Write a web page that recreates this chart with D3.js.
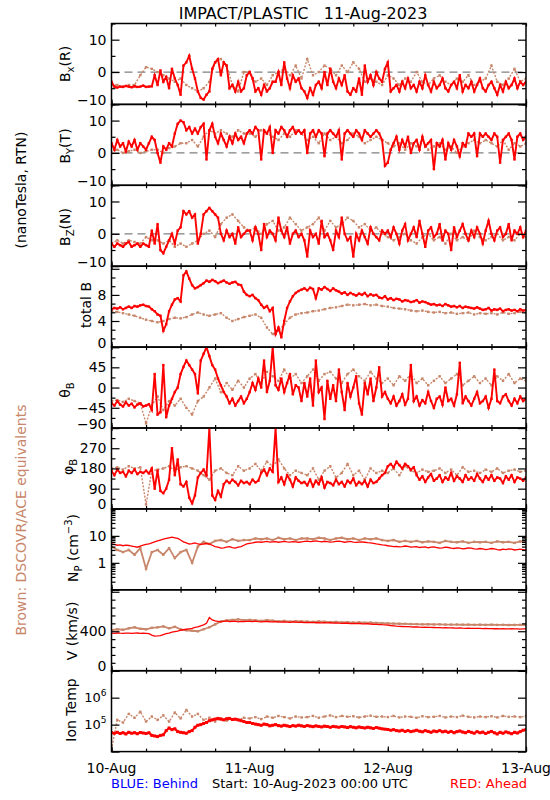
<!DOCTYPE html>
<html><head><meta charset="utf-8">
<script src="https://cdn.jsdelivr.net/npm/d3@7"></script>
<style>
body{margin:0;background:#fff}
svg{display:block}
text{font-family:"DejaVu Sans","Liberation Sans",sans-serif;white-space:pre}
</style>
</head><body>
<svg id="c" width="550" height="800"></svg>
<script>
// ---------------- DATA ----------------
// time axis: 10-Aug-2023 00:00 UTC to 13-Aug-2023 00:00 UTC
const dayLabels = ["10-Aug","11-Aug","12-Aug","13-Aug"];
// red (STEREO Ahead) series: 145 samples, every 30 min; brown (DSCOVR/ACE): 73 samples, hourly

const bxRed = [-3,-4.5,-4.8,-4.5,-4.6,-4.3,-4.5,-4.7,-4.4,-4.6,-4.5,-4.2,-4.6,-4.5,-4.4,
 -1,-4,0.5,-3,-1.5,-5,1,-2,-4, -7,2,3,5,1, -2,-6,-8,-8.5,-7,-6, 1,3,4,-1,3,2, -5,-4,-6,-3,-6,-5,
 -1,0,-2, -6,-5,-7,-4,-6,-5,-3, -3,0,-4,3,-2,-5,-1,-3,-2,-5, -6,-8,-5,-7,-4,
 -3,-5,0,-4,1,-3,-5,-2,-4,-1, -6,-7,-5,-6,-2,-7,2, -3,-1,-4,0,-2,-3,1, 3,
 -6,-5,-4,-6,-3,-5,-2,-5,-4,-6,-3,-5,-1,-4,-6,-3,-5,-4,-2,-5,-6,-4,-3,-5,-1,-6,-4,-5,-3,-6,
 -4,-2,-5,-6,-4,-3,-5,-7,-4,-6,-3,-5,-4,-2,-5,-3,-4,-3];
const bxBrown = [-4,-4,-4.5,-4,-4, -1,1.5,1, 0,-1,-2,-3,-2, -4,-5,-6,-5,-3, 3,4,2,-4,-6, 0,0,
 -3,-2,-4,-1, 0,1,-1,2,-2, 4,-1,0, 2,1,-1,2,0, 3,1,-3,-2, -3,-4,-1,-2,-4,
 -2,-3,0,-3,-4,-2,-1,-3,-4,-2,-3,-1,-4,-3,-2,2,-3,-4,-2,1,-3,-2];

const byRed = [3,1,4,2,3,0.5,3.5,2,4,1,3,2,1,3, 5,4,0,-3,2,1, 3,2, 6,9,10,9.5, 7,8,6,7.5,6,
 8,9,-2,7,9, 5,3,6,4,2,5,3,6,4,5,3,6,
 7,6,8,7,-2,7,6,8,0,7,6,8,7,5,7,8,6,7,
 6,7,0,6,7,5,7,6,-1,6,7,6,5,7,-2,6,7,6,5,7,6,4,7,6,5,6,7,
 6,4,-4,-3,1, 3,5,1,4,2,5,0,3,4,1,5,2,3,4, -5, 3,2,4,-2,3,1,4,2,-1,3,2,
 6,5,6,-1,6,5,6, 5,4,6,5,-3,4,5,6,4,-2,5,6,4,5];
const byBrown = [0,1,0,0.5,1,0,0.5,1, 1,0,1.5,2,3, 3,4,2, 5,7,6,7,6,5,7,6,
 6,5,7,6,5,4,6,5,7,6, 4,5,3,6,4,5,3,4,6,5,3,4,5, 4,3,2,3,1,3,2,4,1,
 2,3,1,2,0,2,3,4,3, 4,3,2,4,1,3,2,3];

const bzRed = [-3,-4,-3,-3.5,-4,-3,-2.5,-4,-3.5,-3,-4,-3,-3.5,-4, 1,-3,3, -5,-6,-4, -2,0,-3,1,2,
 7,6,7,5,6, -3,0, 6,7,8,7,6,5, 0,-2,1,-1,0,-3,2,-1,0,1,
 1,-2,2,0,-5,3,-1,1,0,-2,5,1,-1,2,-3,0,1,-1,
 0,-2,-7,1,-1,0,-3,4,-1,0,-2,-5,1,-1,5,0,-2,-1,-7,0,-2,1,-1,-3,2,0,-1,-2,1,0,
 1,-1,2,0,-3,1,3,-2,0,2,-1,4,0,-4,1,2,-1,0,3,-2,1,0,-5,2,-1,1,3,0,-2,1,
 -1,2,0,-3,1,4,0,-2,1,2,-1,0,3,-2,1,0,2,-1,1];
const bzBrown = [-3,-2,-3,-2,-2.5,-3,-1,-2, -2,-3,-2,-4,-3, -4,-3,-2, 0,1,-1,3,5,6,4,2,
 1,2,0,3,4,1,2,5,3,1, 2,3,5,1,4,2,3,5,4,2,3,1,2, 0,-1,-2,-1,0,-2,-3,-1,0,
 -2,-1,-3,0,-2,-1,-2,1,-1, -2,-1,0,-2,-1,-2,0,-1];

const btRed = [5.8,6,5.9,6.1,5.8,6,6.2,6,6.3,6.2,6.4,6.5,6.3,6.2, 5.8,5.5,5,4.8, 2.5,3.5,
 5.5,6.5,7.3,7.5, 7, 11,11.6,10.5,9.5, 9,9.2,
 9.5,9.8,10.2,10,10.3,10.1,9.8,10,10.2,9.9,9.7,9.9,10,9.6,9.5,
 8.5,8,7.8,8,7.5,7.2, 6.5,6,6.3,5.5,6, 2,3,1.5,4, 6,7,7.8,8.3,8.6,
 8.8,9,8.7,9.1,8.9,7.5,9,8.8,9.2,8.9,8.6,9,8.7,8.5,
 8.2,8.4,8,8.3,8.1,7.9,8.2,8,8.3,7.8,8.1,7.9,8,
 7.6,7.5,7.8,7.3,7.5,7.2,7.4,7.3,7,7.2,7.1,6.9,7,7.2,6.8,7,6.9,
 6.7,6.5,6.6,6.4,6.5,6.3,6.6,6.4,6.2,6.3,6.1,6.3,6,6.2,6.1,6,5.9,6.1,
 5.9,5.7,5.8,6,5.6,5.8,5.7,5.9,5.5,5.7,5.8,5.6,5.7,5.5,5.8,5.6,5.7];
const btBrown = [5.5,5.4,5.2,5,4.8,4.5,4.2,4, 3.8,4,4.3,4.5,4.4, 4.6,5,5.3, 5,4.8,5,5.2,4.5,4,4.3,4.6,
 4.8,5,4.5,3,2,2.5,3.5,4.5,5,5.2, 5.3,5.5,5.6,5.8,6,6.1,6.3,6.5,6.4,6.5,6.6,6.4,6.5,
 6.3,6.2,6,5.9,5.8,5.6,5.5,5.6,5.4, 5.3,5.4,5.2,5.3,5.1,5.2,5.3,5,5.2, 5.1,5.2,5,5.3,5.1,5.2,5.4,5.3];

const thRed = [-35,-40,-30,-38,-42,-33,-40,-36,-44,-38,-35,-42,-40,-37, -50,30,-60,-55,50,-66,
 -40,-25,-10,0, 30,46,60,50, 40,30,-13, 60,75,90,70,50, 40,20,5,-10, -20,-35,-25,-40,-30,-20,-35,-25,
 -10,10,-5,20,0,60,-10,15,90,5,-5,20,-10,10,30,-15,5,0,
 -30,10,-20,20,-40,60,-10,0,-70,15,-25,5,-30,40,-10,-50,10,-20,0,25,-35,-60,10,-15,20,-30,0,45,-20,-10,
 -25,-35,-20,-40,-30,-15,-38,-25,50,-30,-20,-40,-28,-35,-10,-30,-45,-25,-20,-38,
 0,-30,-25,-40,-15,55,-35,-20,-30,-40,-25,-10,-35,-30,-20,-45,-25,40,-30,-35,-20,-15,-30,-40,-25,-35,-20,-30,-25];
const thBrown = [-30,-28,-32,-25,-30,-35,-80,-40, -20,-50,-30,-40,-25, -45,-60,-30, -20,0,20,-10,10,-5,15,0,
 20,30,10,35,25,15,40,20,30,10, 25,40,15,30,35,20,10,30,40,25,15,35,20,
 10,20,5,25,15,30,10,20,5, 15,25,10,20,30,5,15,25,10, 20,5,25,15,30,10,20,15];

const phRed = [170,150,175,160,165,145,170,160,175,155,165,160,170,158, 180,90,170, 80,70,90,
 130,270,150,220, 110,100,120, 50,25,60, 140,160,175,150, 360, 60,40,80,55,
 110,125,115,130,120,105,125,115,120,110,130,118,125, 160,175,150,180,165, 360,
 120,140,110,150,130,100,140,125,
 115,120,105,130,100,125,110,140,95,120,115,105,130,110,120,100,125,115,135,105,120,110,125,100,130,115,120,135,150,160,
 190,200,185,210,195,180,200,190,175,185,
 150,130,145,120,140,155,125,135,150,120,140,130,160,125,145,135,120,150,130,140,
 125,155,135,120,145,130,150,125,140,135,115,145,130,150,120,140,135,125,140];
const phBrown = [180,185,175,190,180,185,20,170, 175,180,190,170,185, 190,180,170, 150,130,170,180,160,150,190,170,
 180,200,170,210,190,220,180,150,170,160, 150,180,130,170,190,140,160,200,150,170,130,180,160,
 170,160,180,150,190,170,160,175,165, 170,180,160,175,150,185,165,170,160, 175,165,180,160,170,175,165,170];

const npRed = [5,4.8,4.5,4.6,4.3,4.5,4.4,4.2,4,3.8,4.2,4.5,4.8,5, 5.5,6,6.5,7,7.5,8,8.5,9,8.5,8,
 7,6,5.5,5,5.2,5.5,5,4.8,5,5.2, 5,4.5,4,3.8,3.5,3.6,3.8,4,3.7,3.5,3.8,4,
 4.5,5,5.3,5.5,5.8,6,5.8,6,6.2,5.9,6,6.1,5.8,6,6.2,6,5.9,6.1,6,5.8,
 6,6.2,6.4,6.1,6.3,6.5,6.2,6,6.3,6.1,5.9,6,6.2,6.4,6.1,5.8,6,6.2,5.9,5.7,5.9,6,5.8,5.6,5.5,5.3,5,4.8,4.6,4.5,
 4.3,4.2,4,4.1,3.9,4,4.2,4.1,3.8,3.9,4,3.7,3.8,3.9,3.6,3.8,3.9,3.7,3.5,3.6,
 3.8,3.7,3.5,3.4,3.6,3.5,3.3,3.4,3.6,3.5,3.3,3.2,3.4,3.3,3.1,3.2,3.4,3.3,3.1,3,3.2,3.1,3.3,3.2,3,3.1,3.2,3.1,3];
const npBrown = [4,3,2.5,3,2,3.5,0.6,2.5, 3,2,3.5,1.5,2.5, 3,1,4, 6,5,6.5,7,6,7.5,6.5,7,
 7,8,7.5,8,7,8.5,7.5,8,7,8, 8,7.5,8.5,8,7,8,8.5,7.5,8,7,8,7.5,8,
 7,6.5,7,6,6.5,6,6.5,5.8,6.2, 6,5.5,6.5,6,5.8,6.2,5.5,6,5.8, 6,5.5,6.2,5.8,6,5.5,6.2,5.8];

const vRed = [380,378,382,380,379,381,380,378,380,382,379,380,378,375, 360,350,352,355,365,375,
 380,390,395,400,410,415,420,425,430,440, 445,455,465,480,540,515,
 505,500,495,500,505,498,500,502,495,500,498,500,
 500,498,502,497,495,498,500,496,494,497,495,492,495,493,490,494,492,489,491,488,
 490,487,489,486,488,485,487,484,486,483,485,482,480,483,481,478,480,477,479,476,474,476,473,471,470,468,466,465,
 462,458,455,452,450,448,446,447,445,443,444,442,440,441,439,440,438,436,437,435,
 436,434,435,433,432,434,431,430,432,429,430,428,429,427,428,426,427,425,426,424,425,423,424,425,423,424,422,423,424];
const vBrown = [410,420,415,430,440,425,420,435, 440,450,430,445,420, 410,405,400, 420,440,470,500,510,515,520,512,
 515,510,505,512,508,500,505,498,502,500, 498,495,500,496,493,495,490,492,488,490,486,488,485,
 482,480,478,476,475,473,472,470,471, 469,470,468,467,468,466,467,465,466, 465,466,464,465,463,464,465,463];

// ion temperature in thousands of kelvin
const tRedK = [50,48,52,47,50,45,52,48,50,46,51,49,47,50, 40,38,36,40,42,60, 75,65,70,55,52,50, 48,55,60,80,95,
 100,110,120,140,150,160,170,160,150,165,170,155,160,150,140,130,120,
 120,110,105,100,95,105,100,90,95,100,92,88,95,90,85,92,88,95,90,86,
 92,88,84,90,86,82,88,85,80,86,83,80,85,82,78,84,80,76,82,78,75,80,76,72,78,74,70,68,
 66,62,65,60,58,62,56,60,55,58,62,57,54,60,56,52,58,55,60,54,
 57,52,56,50,55,58,53,50,56,52,48,55,50,53,47,52,56,50,45,52,48,54,50,46,52,49,55,62,65];
const tBrownK = [12,150,120,250,180,300,130,200, 150,220,130,280,170, 350,200,250, 150,180,130,170,140,160,150,180,
 170,190,160,200,180,210,190,170,200,185, 190,210,180,200,220,190,210,195,205,185,200,215,195,
 200,190,210,185,200,195,180,205,190, 195,210,185,200,190,215,195,185,200, 190,205,185,210,195,200,190,205];

// ---------------- LAYOUT ----------------
const RED = "#ff0000", BROWN = "#c8866a";
const X0 = 111.5, X1 = 526, TOP = 23.5, PH = 80.9;
const START = Date.UTC(2023, 7, 10), HOUR = 3600e3;
const x = d3.scaleUtc().domain([new Date(START), new Date(START + 72 * HOUR)]).range([X0, X1]);
const timeOf = (i, n) => new Date(START + i * 72 / (n - 1) * HOUR);
const sixHours = d3.range(0, 73, 6).map(h => new Date(START + h * HOUR));
const dayTicks = [0, 24, 48, 72].map(h => new Date(START + h * HOUR));

const logMinor = (a, b) => { const o = []; for (let e = a; e < b; e++) for (let m = 2; m <= 9; m++) o.push(m * Math.pow(10, e)); return o; };

const panels = [
  {red: bxRed, brown: bxBrown, dom: [-10, 15], major: [-10, 0, 10], minor: [-5, 5, 15],
   labels: [[10, "10"], [0, "0"], [-10, "−10"]], zero: true, style: "noisy",
   title: [["B"], ["x", "sub"], ["(R)"]], tx: 70, ty: 64},
  {red: byRed, brown: byBrown, dom: [-10, 15], major: [-10, 0, 10], minor: [-5, 5, 15],
   labels: [[10, "10"], [0, "0"], [-10, "−10"]], zero: true, style: "noisy",
   title: [["B"], ["Y", "sub"], ["(T)"]], tx: 70, ty: 146},
  {red: bzRed, brown: bzBrown, dom: [-10, 15], major: [-10, 0, 10], minor: [-5, 5, 15],
   labels: [[10, "10"], [0, "0"], [-10, "−10"]], zero: true, style: "noisy",
   title: [["B"], ["Z", "sub"], ["(N)"]], tx: 70, ty: 227},
  {red: btRed, brown: btBrown, dom: [0, 12.4], major: [0, 4, 8, 12], minor: [4/3, 8/3, 16/3, 20/3, 28/3, 32/3],
   labels: [[8, "8"], [4, "4"], [0, "0"]], style: "noisy",
   title: [["total B"]], tx: 91, ty: 305},
  {red: thRed, brown: thBrown, dom: [-90, 90], major: [-90, -45, 0, 45, 90], minor: [-67.5, -22.5, 22.5, 67.5],
   labels: [[45, "45"], [0, "0"], [-45, "−45"], [-90, "−90"]], style: "noisy",
   title: [["θ"], ["B", "sub"]], tx: 70, ty: 390},
  {red: phRed, brown: phBrown, dom: [0, 360], major: [0, 90, 180, 270, 360], minor: [45, 135, 225, 315],
   labels: [[270, "270"], [180, "180"], [90, "90"], [0, "0"]], style: "noisy",
   title: [["φ"], ["B", "sub"]], tx: 73, ty: 467},
  {red: npRed, brown: npBrown, dom: [0.1, 100], log: true, major: [0.1, 1, 10, 100], minor: logMinor(-1, 2),
   labels: [[10, "10"], [1, "1"]], style: "thin",
   title: [["N"], ["P", "sub"], [" (cm"], ["−3", "sup"], [")"]], tx: 78, ty: 548},
  {red: vRed, brown: vBrown, dom: [0, 820], major: [0, 400, 800], minor: [80, 160, 240, 320, 480, 560, 640, 720],
   labels: [[400, "400"], [0, "0"]], style: "thin",
   title: [["V (km/s)"]], tx: 77, ty: 631},
  {red: tRedK, brown: tBrownK, mult: 1000, dom: [1e4, 1e7], log: true, major: [1e4, 1e5, 1e6, 1e7], minor: [],
   labels: [[1e6, "10", "6"], [1e5, "10", "5"]], style: "dots",
   title: [["Ion Temp"]], tx: 76, ty: 710}
];

const svg = d3.select("#c");
svg.append("rect").attr("width", 550).attr("height", 800).attr("fill", "#fff");

panels.forEach((p, k) => {
  const y0 = TOP + k * PH, y1 = y0 + PH;
  const y = (p.log ? d3.scaleLog() : d3.scaleLinear()).domain(p.dom).range([y1, y0]);
  const mult = p.mult || 1;
  const g = svg.append("g");
  const cid = "clip" + k;
  svg.append("clipPath").attr("id", cid).append("rect")
    .attr("x", X0).attr("y", y0).attr("width", X1 - X0).attr("height", PH);
  const dg = g.append("g").attr("clip-path", `url(#${cid})`);

  if (p.zero) {
    dg.append("line").attr("x1", X0).attr("x2", X1).attr("y1", y(0)).attr("y2", y(0))
      .attr("stroke", "#808080").attr("stroke-width", 1.3).attr("stroke-dasharray", "8,5");
  }

  // brown series
  const bData = p.brown.map((v, i) => ({t: timeOf(i, p.brown.length), v: v * mult}));
  const line = d3.line().x(d => x(d.t)).y(d => y(d.v));
  const bp = dg.append("path").datum(bData).attr("d", line).attr("fill", "none")
    .attr("stroke", BROWN).attr("stroke-width", p.style === "thin" ? 1.8 : 1.4);
  if (p.style !== "thin") bp.attr("stroke-dasharray", "2,1.5");
  dg.selectAll(".bd").data(bData).join("rect")
    .attr("x", d => x(d.t) - 1.2).attr("y", d => y(d.v) - 1.2).attr("width", 2.4).attr("height", 2.4)
    .attr("fill", BROWN);

  // red series
  const rData = p.red.map((v, i) => ({t: timeOf(i, p.red.length), v: v * mult}));
  if (p.style === "noisy") {
    dg.append("path").datum(rData).attr("d", line).attr("fill", "none")
      .attr("stroke", RED).attr("stroke-width", 1.9);
    dg.selectAll(".rd").data(rData).join("rect")
      .attr("x", d => x(d.t) - 1.2).attr("y", d => y(d.v) - 1.2).attr("width", 2.4).attr("height", 2.4)
      .attr("fill", RED);
  } else if (p.style === "thin") {
    dg.append("path").datum(rData).attr("d", line).attr("fill", "none")
      .attr("stroke", RED).attr("stroke-width", 1.3);
  } else {
    dg.append("path").datum(rData).attr("d", line).attr("fill", "none")
      .attr("stroke", RED).attr("stroke-width", 2.2);
    dg.selectAll(".rd").data(rData).join("rect")
      .attr("x", d => x(d.t) - 1.5).attr("y", d => y(d.v) - 1.5).attr("width", 3).attr("height", 3)
      .attr("fill", RED);
  }

  // y axes (ticks inward on both sides)
  const tickStyle = s => s.call(a => a.select(".domain").remove())
    .selectAll("line").attr("stroke", "#000").attr("stroke-width", 1.2);
  g.append("g").attr("transform", `translate(${X0},0)`)
    .call(d3.axisLeft(y).tickValues(p.major).tickSize(-8).tickFormat("")).call(tickStyle);
  g.append("g").attr("transform", `translate(${X0},0)`)
    .call(d3.axisLeft(y).tickValues(p.minor).tickSize(-4).tickFormat("")).call(tickStyle);
  g.append("g").attr("transform", `translate(${X1},0)`)
    .call(d3.axisRight(y).tickValues(p.major).tickSize(-8).tickFormat("")).call(tickStyle);
  g.append("g").attr("transform", `translate(${X1},0)`)
    .call(d3.axisRight(y).tickValues(p.minor).tickSize(-4).tickFormat("")).call(tickStyle);
  // x ticks on top and bottom edges
  g.append("g").attr("transform", `translate(0,${y0})`)
    .call(d3.axisBottom(x).tickValues(sixHours).tickSize(3).tickFormat("")).call(tickStyle);
  g.append("g").attr("transform", `translate(0,${y1})`)
    .call(d3.axisTop(x).tickValues(sixHours).tickSize(3).tickFormat("")).call(tickStyle);
  g.append("g").attr("transform", `translate(0,${y1})`)
    .call(d3.axisTop(x).tickValues(dayTicks).tickSize(5).tickFormat("")).call(tickStyle);

  // tick labels
  p.labels.forEach(([v, s, sup]) => {
    const ty = Math.min(y(v), y1 - 4.5);
    const t = g.append("text").attr("x", X0 - 5).attr("y", ty).attr("dy", "0.36em")
      .attr("text-anchor", "end").attr("font-size", 14).attr("fill", "#000");
    if (sup) {
      t.attr("font-size", 13);
      t.append("tspan").text(s);
      t.append("tspan").attr("dy", -6).attr("font-size", 9).text(sup);
    } else t.text(s);
  });

  // panel title (rotated)
  const tt = g.append("text").attr("transform", `translate(${p.tx},${p.ty}) rotate(-90)`)
    .attr("text-anchor", "middle").attr("font-size", 14).attr("fill", "#000");
  let shift = 0;
  p.title.forEach(([s, kind]) => {
    const ts = tt.append("tspan").text(s);
    let target = kind === "sub" ? 4 : kind === "sup" ? -6 : 0;
    if (target !== shift) { ts.attr("dy", target - shift); shift = target; }
    if (kind) ts.attr("font-size", 10);
  });

  // frame
  g.append("rect").attr("x", X0).attr("y", y0).attr("width", X1 - X0).attr("height", PH)
    .attr("fill", "none").attr("stroke", "#000").attr("stroke-width", 1.5);
});

// title
svg.append("text").attr("x", 303).attr("y", 19).attr("text-anchor", "middle")
  .attr("font-size", 16).attr("fill", "#000").text("IMPACT/PLASTIC   11-Aug-2023");

// day labels
const BOTTOM = TOP + 9 * PH;
dayTicks.forEach((d, i) => {
  svg.append("text").attr("x", x(d)).attr("y", BOTTOM + 21).attr("text-anchor", "middle")
    .attr("font-size", 14).attr("fill", "#000").text(dayLabels[i]);
});
svg.append("text").attr("x", 111).attr("y", BOTTOM + 36).attr("font-size", 13).attr("fill", "#0000ff").text("BLUE: Behind");
svg.append("text").attr("x", 212).attr("y", BOTTOM + 36).attr("font-size", 13).attr("fill", "#000").text("Start: 10-Aug-2023 00:00 UTC");
svg.append("text").attr("x", 450).attr("y", BOTTOM + 36).attr("font-size", 13).attr("fill", RED).text("RED: Ahead");

// left side notes
svg.append("text").attr("transform", "translate(26,190) rotate(-90)").attr("text-anchor", "middle")
  .attr("font-size", 14).attr("fill", "#000").text("(nanoTesla, RTN)");
svg.append("text").attr("transform", "translate(26,520) rotate(-90)").attr("text-anchor", "middle")
  .attr("font-size", 14).attr("fill", BROWN).text("Brown: DSCOVR/ACE equivalents");
</script>
</body></html>
